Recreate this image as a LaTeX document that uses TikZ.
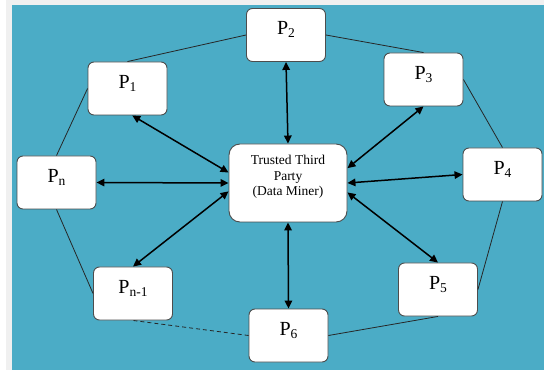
\documentclass[tikz,border=0pt]{standalone}
\usepackage{fontspec}
\setmainfont{Liberation Serif}
\usetikzlibrary{arrows.meta}
\definecolor{bgblue}{HTML}{4BACC6}
\definecolor{pagegray}{HTML}{F0F0F0}
\definecolor{boxline}{HTML}{4D4D4D}
\newcommand\psub[1]{\raisebox{-2.6pt}{\fontsize{13.5}{14}\selectfont #1}}
\begin{document}
\begin{tikzpicture}[x=1pt,y=1pt,
  pbox/.style={draw=boxline, line width=0.9pt, fill=white, rounded corners=6pt,
    minimum width=79pt, minimum height=53pt, inner sep=0pt,
    font=\fontsize{20}{24}\selectfont, text height=14pt, text depth=14pt},
  ttpbox/.style={draw=boxline, line width=0.9pt, fill=white, rounded corners=11pt,
    minimum width=118pt, minimum height=78pt, inner sep=0pt,
    font=\fontsize{13.5}{15.5}\selectfont, align=center},
  link/.style={draw=black!85, line width=0.8pt},
  dlink/.style={link, dash pattern=on 4pt off 3pt},
  biarrow/.style={line width=1.5pt,
    {Triangle[length=8pt,width=7.5pt]}-{Triangle[length=8pt,width=7.5pt]}}
]
% background
\useasboundingbox (0,0) rectangle (544,370);
\fill[white] (0,0) rectangle (544,370);
\fill[pagegray] (6,0) rectangle (544,370);
\fill[bgblue] (12,0) rectangle (544,365);

% nodes
\node[ttpbox] (ttp) at (288,187) {Trusted Third\\Party\\(Data Miner)\\[-1pt]\mbox{}};
\node[pbox] (p2) at (286,335) {P\psub{2}};
\node[pbox] (p1) at (127.5,281.5) {P\psub{1}};
\node[pbox] (p3) at (423.5,290.5) {P\psub{3}};
\node[pbox] (pn) at (56.5,187.5) {P\psub{n}};
\node[pbox] (p4) at (502.5,195.5) {P\psub{4}};
\node[pbox] (pm) at (133,76.5) {P\psub{n-1}};
\node[pbox] (p5) at (438,80.5) {P\psub{5}};
\node[pbox] (p6) at (288.5,34.5) {P\psub{6}};

% ring
\draw[link] (p1.north) -- (p2.west);
\draw[link] (p2.east) -- (p3.north);
\draw[link] (p3.east) -- (p4.north);
\draw[link] (p4.south) -- (p5.east);
\draw[link] (p5.south) -- (p6.east);
\draw[dlink] (p6.west) -- (pm.south);
\draw[link] (pm.west) -- (pn.south);
\draw[link] (pn.north) -- (p1.west);

% arrows to the trusted third party
\draw[biarrow] (p2.south) -- (ttp.north);
\draw[biarrow] (p1.280) -- (ttp.170);
\draw[biarrow] (p3.south) -- (ttp.14);
\draw[biarrow] (pn.east) -- (ttp.west);
\draw[biarrow] (p4.west) -- (ttp.east);
\draw[biarrow] (pm.north) -- (ttp.188);
\draw[biarrow] (p5.north) -- (ttp.351);
\draw[biarrow] (p6.north) -- (ttp.south);
\end{tikzpicture}
\end{document}
